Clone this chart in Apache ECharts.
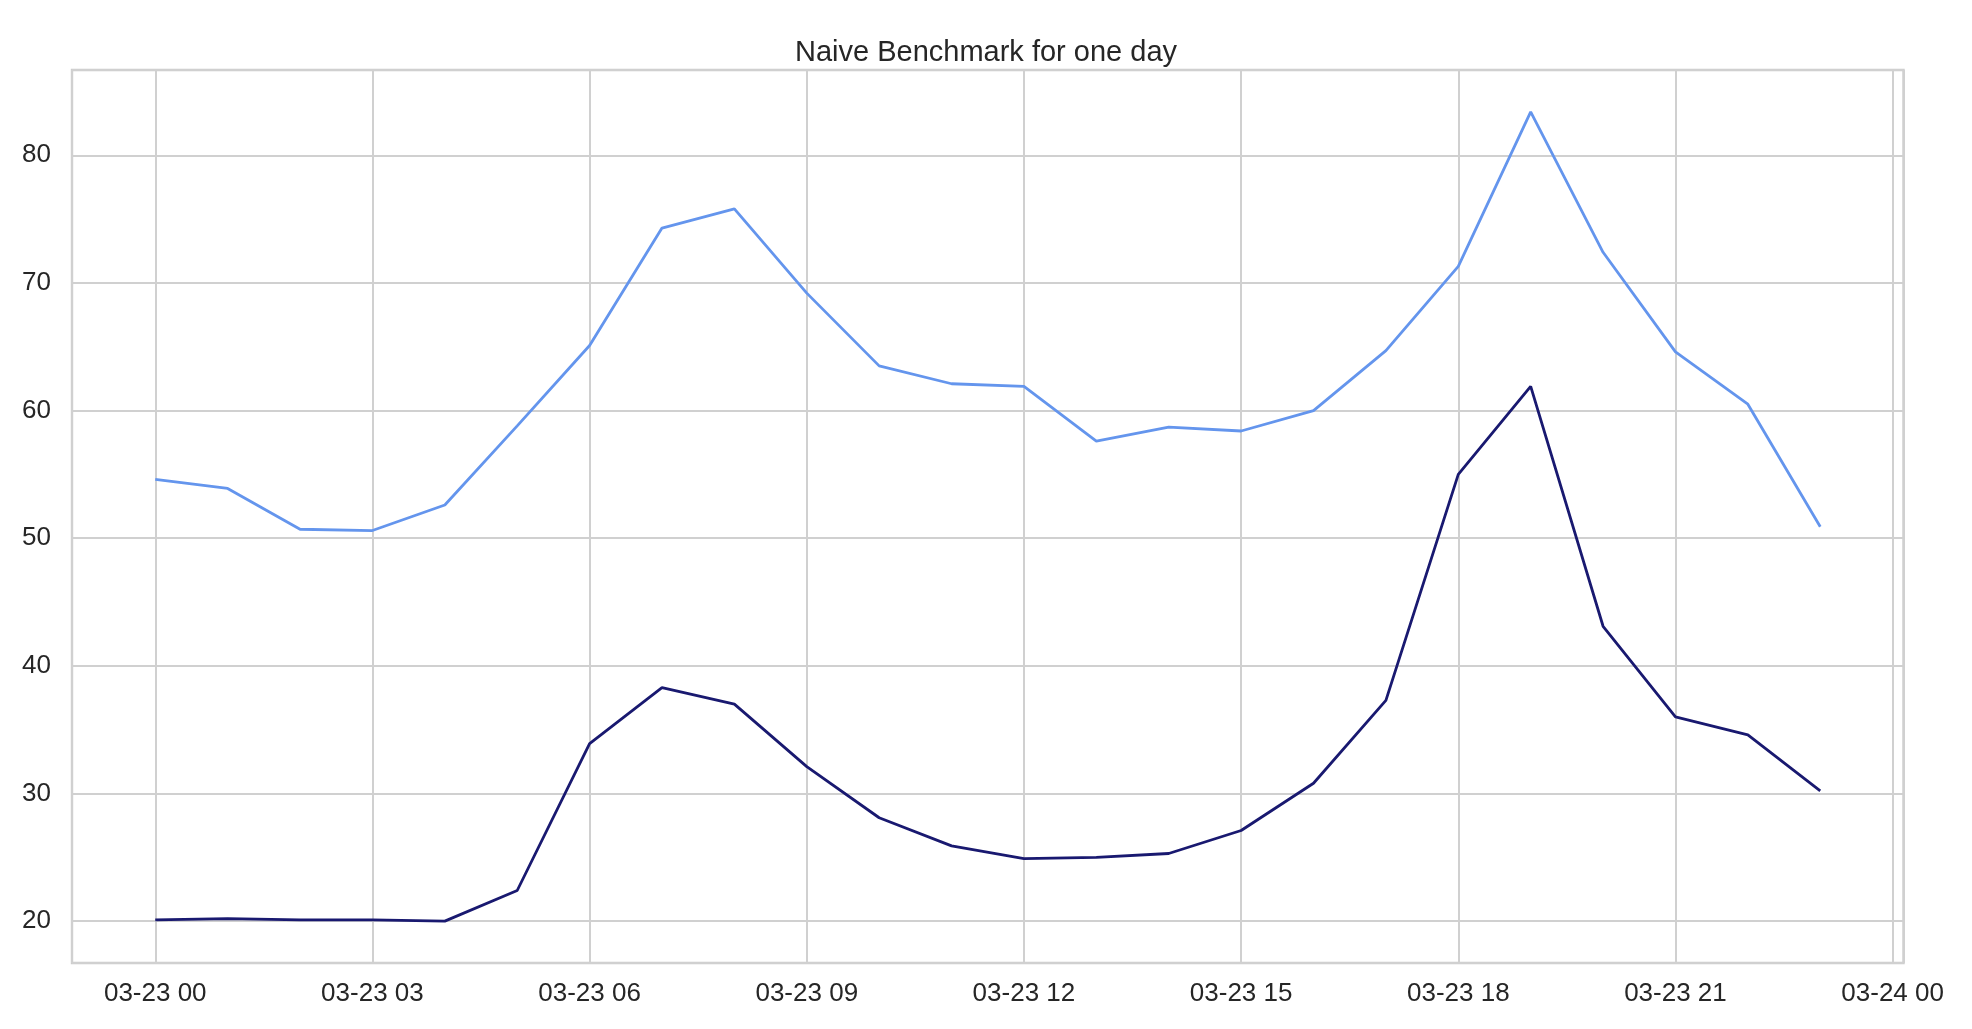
<!DOCTYPE html>
<html>
<head>
<meta charset="utf-8">
<script src="https://cdn.jsdelivr.net/npm/echarts@6/dist/echarts.min.js"></script>
<style>
  html, body { margin: 0; padding: 0; background: #ffffff; }
  #chart { width: 1972px; height: 1029px; }
</style>
</head>
<body>
<div id="chart"></div>
<script>
// ---- data (hour of 03-23) ----
const hours = [0,1,2,3,4,5,6,7,8,9,10,11,12,13,14,15,16,17,18,19,20,21,22,23];
const upperSeries = [54.6,53.9,50.7,50.6,52.6,58.8,65.1,74.3,75.8,69.2,63.5,62.1,61.9,57.6,58.7,58.4,60.0,64.7,71.3,83.4,72.4,64.6,60.5,50.9];
const lowerSeries = [20.1,20.2,20.1,20.1,20.0,22.4,33.9,38.3,37.0,32.1,28.1,25.9,24.9,25.0,25.3,27.1,30.8,37.3,55.0,61.9,43.1,36.0,34.6,30.2];
const xTickHours = [0,3,6,9,12,15,18,21,24];
const xTickLabels = ['03-23 00','03-23 03','03-23 06','03-23 09','03-23 12','03-23 15','03-23 18','03-23 21','03-24 00'];
const yTicks = [20,30,40,50,60,70,80];
const titleText = 'Naive Benchmark for one day';

// axis extents (matplotlib-style 5% margins)
const xMin = -1.15, xMax = 24.15;
const yMin = 16.72, yMax = 86.68;

const FONT = "'Liberation Sans', Arial, sans-serif";
const TXT = '#262626';
const GRID = '#d0d0d0';

const chart = echarts.init(document.getElementById('chart'), null, { renderer: 'canvas' });

function pair(xs, ys) { return xs.map((x, i) => [x, ys[i]]); }

chart.setOption({
  backgroundColor: '#ffffff',
  animation: false,
  title: {
    text: titleText,
    left: 'center',
    top: 33,
    textStyle: { fontFamily: FONT, fontSize: 29, fontWeight: 'normal', color: TXT }
  },
  grid: {
    left: 72, right: 68.5, top: 70, bottom: 66,
    containLabel: false,
    outerBoundsMode: 'none',
    show: true,
    borderColor: '#cccccc',
    borderWidth: 2.4,
    backgroundColor: 'transparent'
  },
  xAxis: {
    type: 'value',
    min: xMin, max: xMax,
    minInterval: 3, maxInterval: 3,
    splitNumber: 8,
    axisLine: { show: false },
    axisTick: { show: false },
    splitLine: { show: true, lineStyle: { color: GRID, width: 2 } },
    axisLabel: {
      show: true,
      showMinLabel: false,
      showMaxLabel: false,
      margin: 18,
      fontFamily: FONT, fontSize: 26, color: TXT,
      formatter: function (v) {
        const i = xTickHours.findIndex(h => Math.abs(h - v) < 1e-6);
        return i >= 0 ? xTickLabels[i] : '';
      }
    }
  },
  yAxis: {
    type: 'value',
    min: yMin, max: yMax,
    minInterval: 10, maxInterval: 10,
    splitNumber: 7,
    axisLine: { show: false },
    axisTick: { show: false },
    splitLine: { show: true, lineStyle: { color: GRID, width: 2 } },
    axisLabel: {
      show: true,
      showMinLabel: false,
      showMaxLabel: false,
      margin: 21,
      fontFamily: FONT, fontSize: 26, color: TXT,
      formatter: function (v) {
        const i = yTicks.findIndex(t => Math.abs(t - v) < 1e-6);
        return i >= 0 ? String(yTicks[i]) : '';
      }
    }
  },
  series: [
    {
      name: 'upper', type: 'line',
      data: pair(hours, upperSeries),
      showSymbol: false, symbol: 'none',
      lineStyle: { color: '#6495ED', width: 2.8 },
      itemStyle: { color: '#6495ED' },
      z: 3
    },
    {
      name: 'lower', type: 'line',
      data: pair(hours, lowerSeries),
      showSymbol: false, symbol: 'none',
      lineStyle: { color: '#191970', width: 2.8 },
      itemStyle: { color: '#191970' },
      z: 3
    }
  ]
});
</script>
</body>
</html>
